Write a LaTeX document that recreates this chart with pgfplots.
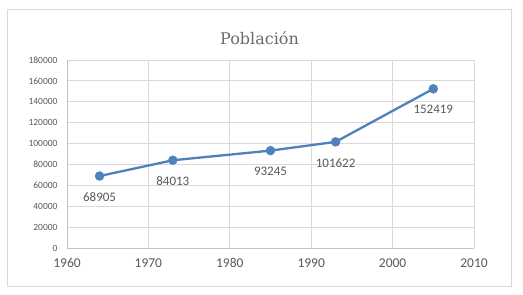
\documentclass[border=0pt]{standalone}
\usepackage{pgfplots}
\pgfplotsset{compat=1.18}
\usepackage{fontspec}
\setmainfont{Carlito}
\newfontfamily\titlefont{DejaVu Serif}
\definecolor{serblue}{RGB}{79,129,189}
\definecolor{txtgray}{RGB}{89,89,89}
\definecolor{gridgray}{RGB}{217,217,217}
\definecolor{axgray}{RGB}{195,195,195}
\begin{document}
\begin{tikzpicture}[x=1pt,y=1pt]
\useasboundingbox (0,0) rectangle (523,295);
\fill[white] (0,0) rectangle (523,295);
\draw[draw=gridgray, line width=1pt] (7,8) rectangle (511,285);
\node[text=txtgray!90, font=\titlefont\fontsize{16}{18}\selectfont] at (259.5,257) {Población};
\begin{axis}[
  at={(67pt,47pt)}, anchor=south west,
  scale only axis, width=407pt, height=188pt,
  xmin=1960, xmax=2010, ymin=0, ymax=180000,
  xtick={1960,1970,...,2010},
  ytick={0,20000,...,180000},
  scaled y ticks=false, scaled x ticks=false,
  /pgf/number format/.cd, fixed, 1000 sep={}, assume math mode=true,
  /pgfplots/.cd,
  grid=major,
  major grid style={draw=gridgray, line width=0.9pt},
  axis line style={draw=axgray, line width=0.9pt},
  axis x line*=bottom, axis y line*=left,
  tick style={draw=none},
  x tick label style={font=\fontsize{13.5}{15}\selectfont, text=txtgray, yshift=-7pt},
  y tick label style={font=\fontsize{9.5}{11}\selectfont, text=txtgray, xshift=-6pt},
  clip=false,
]
\addplot[color=serblue, line width=2.3pt, mark=*, mark size=4.5pt,
  mark options={solid, fill=serblue, draw=serblue, line width=0.4pt},
  point meta=explicit symbolic,
  nodes near coords,
  every node near coord/.append style={anchor=center, yshift=-21pt, font=\fontsize{13}{15}\selectfont, text=txtgray}]
  table[meta=lab] {
  x y lab
  1964 68905 68905
  1973 84013 84013
  1985 93245 93245
  1993 101622 101622
  2005 152419 152419
  };
\end{axis}
\end{tikzpicture}
\end{document}
